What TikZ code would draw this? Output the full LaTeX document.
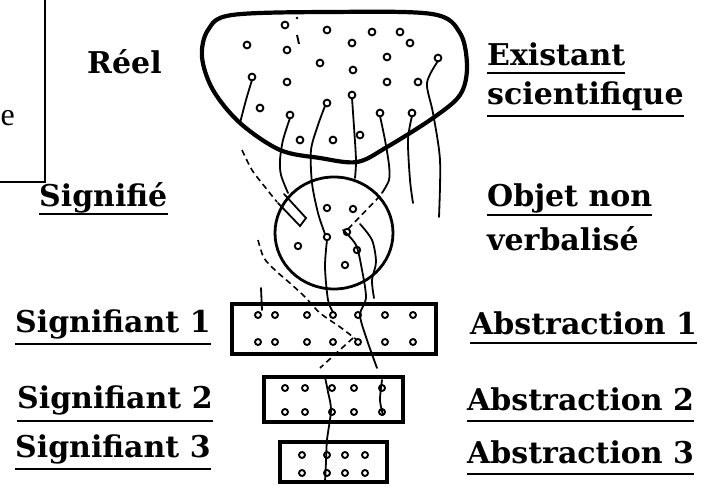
\documentclass[tikz,border=0pt]{standalone}
\usepackage{fontspec}
\newfontfamily\labfont{DejaVu Serif}
\newfontfamily\plainfont{Liberation Serif}
\usetikzlibrary{shapes.geometric}
\begin{document}
\begin{tikzpicture}[x=1pt,y=-1pt,
  lbl/.style={font=\labfont\bfseries\fontsize{30}{34}\selectfont, inner sep=0pt, anchor=base west},
  uline/.style={line width=2pt},
  shell/.style={line width=4.2pt, line join=round},
  sphere/.style={draw, ellipse, line width=2.8pt, inner sep=0pt},
  tray/.style={draw, rectangle, line width=3.2pt, inner sep=0pt},
  strand/.style={line width=1.8pt, line cap=round},
  dashstrand/.style={line width=1.6pt, dash pattern=on 6pt off 4pt},
  grain/.style={line width=1.9pt},
  frame/.style={line width=1.4pt}]
\useasboundingbox (0,0) rectangle (705,490);
\fill[white] (0,0) rectangle (705,490);

% fragment of a neighbouring text box
\draw[frame] (45,0) -- (45,182) -- (0,182);
\node[font=\plainfont\fontsize{32}{34}\selectfont, anchor=base west, inner sep=0pt] (cut) at (0.5,125) {e};

% the real world: bowl-shaped outline
\draw[shell] plot[smooth cycle, tension=0.55] coordinates {
  (232,15) (330,12) (432,14) (460,33) (467,67) (460,95) (433,118)
  (387,147) (357,162) (320,158) (280,150) (240,123) (213,90) (202,57) (208,30)};

% non-verbalised object
\node[sphere, minimum width=118pt, minimum height=112pt] (obj) at (334,233) {};

% signifier trays
\node[tray, minimum width=204pt, minimum height=50pt] (r1) at (334,329) {};
\node[tray, minimum width=139pt, minimum height=45pt] (r2) at (333.5,399.5) {};
\node[tray, minimum width=107pt, minimum height=40pt] (r3) at (333.5,462) {};

% grains of the real
\foreach \p in {(285,25),(327,30),(372,32),(400,32),(247,45),(287,50),(352,43),(410,43),
  (320,63),(387,57),(438,58),(252,77),(287,82),(353,70),(387,82),(418,82),(260,108),
  (290,115),(327,103),(352,95),(380,113),(412,113),(300,140),(333,140),(360,135)}
  \draw[grain] \p circle[radius=3.4pt];
\draw[grain] (297,35) -- (299,44);
\fill (297,18) circle[radius=1.4pt];

% grains inside the object
\foreach \p in {(327,208),(353,209),(347,232),(327,237),(357,250),(345,265),(298,246)}
  \draw[grain] \p circle[radius=3.2pt];

% grains inside the trays
\foreach \x in {258,275,307,333,358,385,413}{
  \draw[grain] (\x,315) circle[radius=3pt];
  \draw[grain] (\x,342) circle[radius=3pt];}
\foreach \x in {285,305,332,354,382}{
  \draw[grain] (\x,388) circle[radius=3pt];
  \draw[grain] (\x,412) circle[radius=3pt];}
\foreach \x in {302,327,345,365}{
  \draw[grain] (\x,455) circle[radius=3pt];
  \draw[grain] (\x,473) circle[radius=3pt];}

% strands from the real down through the object
\draw[strand] plot[smooth] coordinates {(252,80) (246,100) (240,123)};
\draw[strand] plot[smooth] coordinates {(290,118) (283,140) (280,160) (281,175) (288,193)};
\draw[strand] plot[smooth] coordinates {(325,106) (318,125) (311,150) (312,183) (318,213) (325,234)};
\draw[strand] plot[smooth] coordinates {(352,98) (354,127) (356,160) (355,178)};
\draw[strand] plot[smooth] coordinates {(380,116) (385,140) (389,165) (389,180) (382,193)};
\draw[dashstrand] (380,196) -- (348,229);
\draw[strand] plot[smooth] coordinates {(412,116) (408,140) (410,180) (413,203)};
\draw[strand] plot[smooth] coordinates {(438,61) (427,83) (433,113) (440,160) (439,217)};

% entry slot on the object's rim
\draw[strand] (284,194) -- (306,218) -- (300,226) -- (278,203);

% strands from the object down through the trays
\draw[strand] plot[smooth] coordinates {(327,240) (325,267) (328,300) (333,312)};
\draw[strand] plot[smooth] coordinates {(343,230) (356,245) (362,270) (366,298) (360,315) (367,340) (377,368)};
\draw[strand] plot[smooth] coordinates {(360,224) (372,240) (376,262) (372,280) (374,298)};
\draw[dashstrand] (353,338) -- (320,368);
\draw[strand] plot[smooth] coordinates {(382,380) (380,400) (383,415)};
\draw[strand] plot[smooth] coordinates {(325,377) (328,392) (331,410) (327,440) (326,462) (325,482)};
\draw[strand] (261,288) -- (262,310);

% dashed paths on the left
\draw[dashstrand] plot[smooth] coordinates {(242,150) (252,170) (265,187) (277,202)};
\draw[dashstrand] plot[smooth] coordinates {(258,240) (264,258) (276,271) (291,284) (305,297) (320,313) (340,327) (357,340)};

% labels
\node[lbl] (reel) at (87,73) {Réel};
\node[lbl] (exist) at (487,65) {Existant};
\node[lbl] (scien) at (487,104) {scientifique};
\node[lbl] (signifie) at (39,206) {Signifié};
\node[lbl] (objet) at (487,206) {Objet non};
\node[lbl] (verbal) at (487,250) {verbalisé};
\node[lbl] (sig1) at (15,332) {Signifiant 1};
\node[lbl] (sig2) at (17,408) {Signifiant 2};
\node[lbl] (sig3) at (15,457) {Signifiant 3};
\node[lbl] (abs1) at (470,334) {Abstraction 1};
\node[lbl] (abs2) at (467,410) {Abstraction 2};
\node[lbl] (abs3) at (467,463) {Abstraction 3};

% underlines
\foreach \n/\y in {exist/73, scien/116, signifie/214, objet/215, sig1/344, sig2/421, sig3/469, abs1/343, abs2/421, abs3/474}
  \draw[uline] (\n.west |- 0,\y) -- (\n.east |- 0,\y);
\end{tikzpicture}
\end{document}
